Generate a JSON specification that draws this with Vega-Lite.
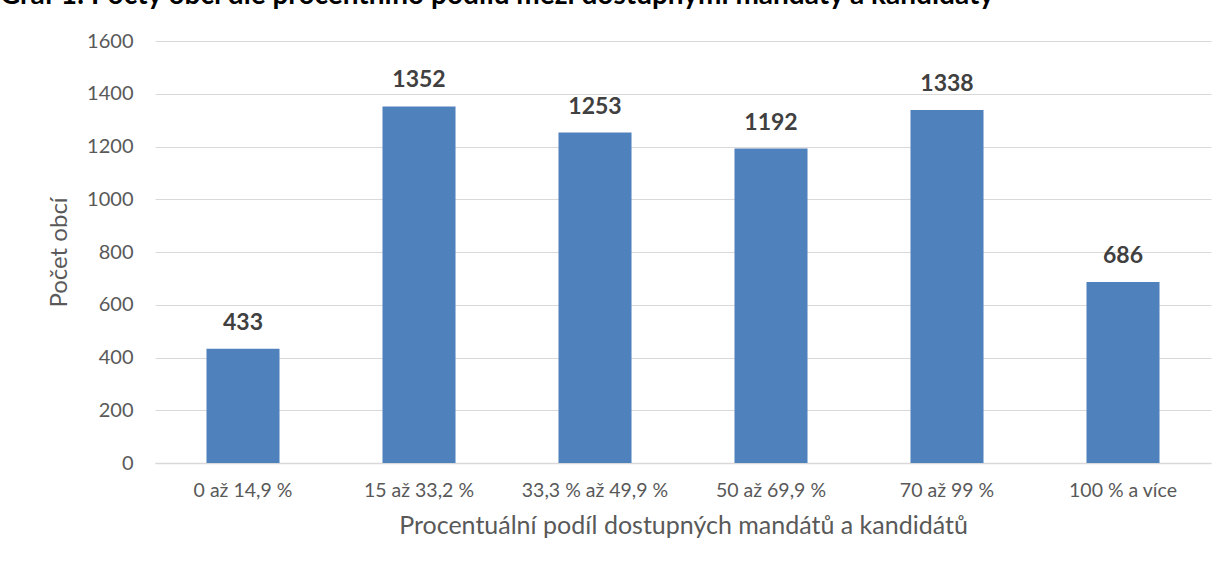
{
  "$schema": "https://vega.github.io/schema/vega-lite/v6.json",
  "autosize": "none",
  "width": 1056,
  "height": 422,
  "padding": {"left": 155, "top": 41, "right": 17, "bottom": 108},
  "background": "white",
  "title": {
    "text": "Graf 1: Počty obcí dle procentního podílu mezi dostupnými mandáty a kandidáty",
    "anchor": "start",
    "frame": "group",
    "dx": -155,
    "offset": 21,
    "font": "Lato",
    "fontSize": 28,
    "fontWeight": "bold",
    "color": "#000000"
  },
  "data": {
    "values": [
      {"kategorie": "0 až 14,9 %", "pocet": 433},
      {"kategorie": "15 až 33,2 %", "pocet": 1352},
      {"kategorie": "33,3 % až 49,9 %", "pocet": 1253},
      {"kategorie": "50 až 69,9 %", "pocet": 1192},
      {"kategorie": "70 až 99 %", "pocet": 1338},
      {"kategorie": "100 % a více", "pocet": 686}
    ]
  },
  "encoding": {
    "x": {
      "field": "kategorie",
      "type": "nominal",
      "sort": null,
      "scale": {"paddingInner": 0.585, "paddingOuter": 0.2925},
      "axis": {
        "title": "Procentuální podíl dostupných mandátů a kandidátů",
        "labelAngle": 0,
        "labelFont": "Lato",
        "labelFontSize": 19.5,
        "labelColor": "#595959",
        "labelPadding": 18,
        "ticks": false,
        "domainColor": "#d9d9d9",
        "domainWidth": 1.5,
        "titleFont": "Lato",
        "titleFontSize": 25,
        "titleFontWeight": "normal",
        "titleColor": "#595959",
        "titlePadding": 14
      }
    },
    "y": {
      "field": "pocet",
      "type": "quantitative",
      "scale": {"domain": [0, 1600]},
      "axis": {
        "title": "Počet obcí",
        "values": [0, 200, 400, 600, 800, 1000, 1200, 1400, 1600],
        "format": "d",
        "labelFont": "Lato",
        "labelFontSize": 20,
        "labelColor": "#595959",
        "labelPadding": 22,
        "ticks": false,
        "domain": false,
        "gridColor": "#d9d9d9",
        "gridWidth": 1,
        "titleFont": "Lato",
        "titleFontSize": 24,
        "titleFontWeight": "normal",
        "titleColor": "#595959",
        "titlePadding": 15
      }
    }
  },
  "layer": [
    {"mark": {"type": "bar", "color": "#4f81bd"}},
    {
      "mark": {"type": "text", "baseline": "alphabetic", "dy": -19, "font": "Lato", "fontSize": 23, "fontWeight": "bold", "color": "#404040"},
      "encoding": {"text": {"field": "pocet", "type": "quantitative"}}
    }
  ],
  "config": {"view": {"stroke": null}}
}
